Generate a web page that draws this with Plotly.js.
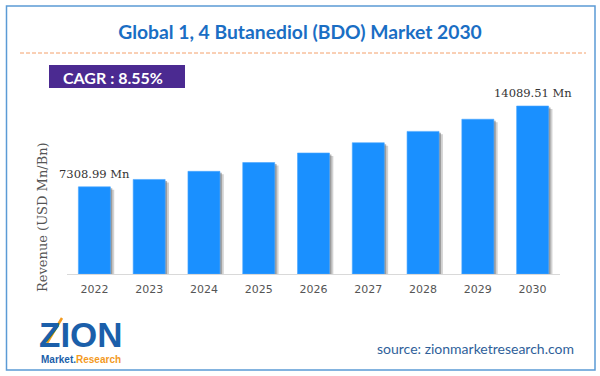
<!DOCTYPE html>
<html>
<head>
<meta charset="utf-8">
<script src="https://cdn.plot.ly/plotly-3.0.1.min.js"></script>
<style>html,body{margin:0;padding:0;background:#fff}#chart{width:600px;height:376px}</style>
</head>
<body>
<div id="chart"></div>
<script>
// ---- data ----
const years = ["2022","2023","2024","2025","2026","2027","2028","2029","2030"];
const revenue = [7308.99, 7930, 8610, 9350, 10150, 11010, 11960, 12980, 14089.51];
const labelIdx = [0, 8];
const labelText = ["7308.99 Mn", "14089.51 Mn"];
const chartTitle = "Global 1, 4 Butanediol (BDO) Market 2030";
const cagrText = "CAGR : 8.55%";
const yTitle = "Revenue (USD Mn/Bn)";
const sourceText = "source: zionmarketresearch.com";

// ---- layout geometry ----
const W = 600, H = 376;
const L = 67, R = 40, T = 90, B = 102;
const PW = W - L - R, PH = H - T - B;
const px = x => (x - L) / PW;
const py = y => (H - B - y) / PH;

const barW = 0.584;
const shadow1 = {
  type: 'bar', x: years, y: revenue, width: barW, offset: -barW/2 + 0.07,
  base: -250, marker: {color: 'rgba(90,90,90,0.28)'}, hoverinfo: 'skip', showlegend: false
};
const shadow2 = {
  type: 'bar', x: years, y: revenue, width: barW, offset: -barW/2 + 0.035,
  base: -120, marker: {color: 'rgba(90,90,90,0.45)'}, hoverinfo: 'skip', showlegend: false
};
const main = {
  type: 'bar', x: years, y: revenue, width: barW, offset: -barW/2,
  marker: {color: '#1a90ff', line: {color: '#4aa6ff', width: 0.6}}, showlegend: false
};

const annotations = labelIdx.map((i, k) => ({
  x: i, y: revenue[i], xref: 'x', yref: 'y', text: labelText[k],
  showarrow: false, yanchor: 'bottom', yshift: 4,
  font: {family: 'DejaVu Serif', size: 11.5, color: '#333'}
}));
annotations.push(
  {x: px(42), y: py(217), xref: 'paper', yref: 'paper', text: yTitle, textangle: -90,
   showarrow: false, xanchor: 'center', yanchor: 'middle',
   font: {family: 'DejaVu Serif', size: 13, color: '#555'}},
  {x: px(61), y: py(77), xref: 'paper', yref: 'paper', text: '<b>' + cagrText + '</b>',
   showarrow: false, xanchor: 'left', yanchor: 'middle',
   font: {family: 'Lato', size: 16, color: '#ffffff'}},
  {x: px(576), y: py(348), xref: 'paper', yref: 'paper', text: sourceText,
   showarrow: false, xanchor: 'right', yanchor: 'middle',
   font: {family: 'Lato', size: 14, color: '#2f5f9a'}},
  {x: px(81), y: py(334), xref: 'paper', yref: 'paper', text: '<b>ZION</b>',
   showarrow: false, xanchor: 'center', yanchor: 'middle',
   font: {family: 'Liberation Sans', size: 35, color: '#1b5faa'}},
  {x: px(81), y: py(359), xref: 'paper', yref: 'paper',
   text: '<b><span style="color:#1b5faa">Market.</span><span style="color:#f39a1f">Research</span></b>',
   showarrow: false, xanchor: 'center', yanchor: 'middle',
   font: {family: 'Liberation Sans', size: 10, color: '#1b5faa'}}
);

const shapes = [
  {type: 'rect', xref: 'paper', yref: 'paper', x0: px(6.5), x1: px(595), y0: py(370), y1: py(6),
   line: {color: '#5b9bd5', width: 1.5}, fillcolor: 'rgba(0,0,0,0)'},
  {type: 'line', xref: 'paper', yref: 'paper', x0: px(20), x1: px(586), y0: py(53), y1: py(53),
   line: {color: '#f4a06a', width: 1, dash: '4px,2px'}},
  {type: 'rect', xref: 'paper', yref: 'paper', x0: px(49), x1: px(185), y0: py(88), y1: py(65),
   line: {width: 0}, fillcolor: '#4b2a91'},
  {type: 'line', xref: 'paper', yref: 'paper', x0: px(47), x1: px(62), y0: py(343), y1: py(318),
   line: {color: '#f39a1f', width: 2.5}}
];

const layout = {
  width: W, height: H,
  margin: {l: L, r: R, t: T, b: B, pad: 0},
  paper_bgcolor: '#fff', plot_bgcolor: '#fff',
  barmode: 'overlay',
  title: {text: '<b>' + chartTitle + '</b>', x: 0.5, xref: 'container', y: 1 - 32/H, yref: 'container',
          xanchor: 'center', yanchor: 'middle',
          font: {family: 'Lato', size: 19.3, color: '#1a6ec4'}},
  xaxis: {type: 'category', range: [-0.5, 8.5], autorange: false, showgrid: false, showline: true,
          linecolor: '#d9d9d9', linewidth: 1,
          ticks: '', ticklabelstandoff: 5, tickfont: {family: 'DejaVu Sans', size: 11, color: '#555'},
          fixedrange: true},
  yaxis: {range: [0, PH * 14089.51 / 168], autorange: false, showgrid: false, zeroline: false, showline: false,
          showticklabels: false, ticks: '', fixedrange: true},
  annotations: annotations,
  shapes: shapes
};

Plotly.newPlot('chart', [shadow1, shadow2, main], layout, {displayModeBar: false, staticPlot: true});
</script>
</body>
</html>
